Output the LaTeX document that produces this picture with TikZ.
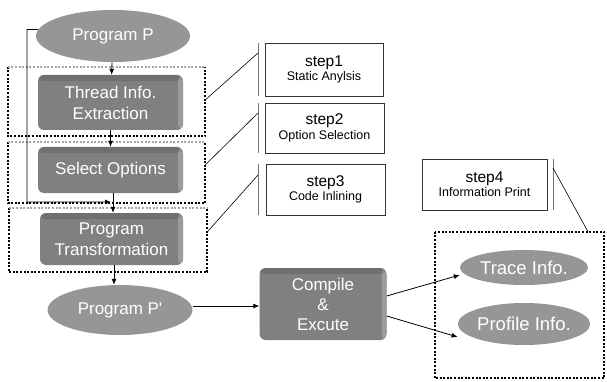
\documentclass[tikz,border=0pt]{standalone}
\usepackage{fontspec}
\setmainfont{Liberation Sans}
\usetikzlibrary{shapes.geometric,arrows.meta}
\definecolor{boxgray}{RGB}{128,128,128}
\definecolor{ellgray}{RGB}{150,150,150}
\tikzset{
  lbl/.style={text=white,font=\fontsize{17}{21}\selectfont,align=center,inner sep=0pt},
  procbox/.style={lbl,rectangle,rounded corners=6pt,fill=boxgray,
    path picture={
      \fill[black,opacity=0.12] (path picture bounding box.north west) rectangle ([yshift=-6pt]path picture bounding box.north east);
      \fill[white,opacity=0.22] ([xshift=-5pt]path picture bounding box.north east) rectangle (path picture bounding box.south east);
    }},
  ellnode/.style={lbl,ellipse,fill=ellgray},
  stepbox/.style={draw=black!80,line width=0.5pt,fill=white,align=center,inner sep=0pt},
  framearea/.style={inner sep=0pt},
  dotline/.style={line width=2pt,dash pattern=on 2pt off 1.6pt},
  arr/.style={-{Latex[length=6pt,width=5pt]},line width=0.8pt},
  thin/.style={line width=0.6pt},
}
\begin{document}
\begin{tikzpicture}[x=1pt,y=-1pt]
\useasboundingbox (0,0) rectangle (607,382);
% dotted frames
\node[framearea,minimum width=197pt,minimum height=69pt] (f1) at (106.5,101.5) {};
\node[framearea,minimum width=197pt,minimum height=61pt] (f2) at (106.5,172.5) {};
\node[framearea,minimum width=198pt,minimum height=64pt] (f3) at (108,240) {};
\node[framearea,minimum width=169pt,minimum height=146pt] (f4) at (519.5,305) {};
\foreach \f in {f1,f2,f3}{
  \draw[dotline] (\f.north west) -- (\f.south west) -- (\f.south east) -- (\f.north east);
  \draw[dotline,black!35,line width=1.6pt] (\f.north west) -- (\f.north east);
}
\draw[dotline] (f4.north west) rectangle (f4.south east);
% process nodes
\node[ellnode,minimum width=154pt,minimum height=52pt] (pp) at (113,36) {Program P};
\node[procbox,minimum width=145pt,minimum height=55pt] (te) at (110.5,102.5) {Thread Info.\\Extraction};
\node[procbox,minimum width=145pt,minimum height=46pt] (so) at (110.5,170) {Select Options};
\node[procbox,minimum width=143pt,minimum height=52pt] (pt) at (111.5,239) {Program\\Transformation};
\node[ellnode,minimum width=145pt,minimum height=50pt] (pq) at (120,310) {Program P\textquotesingle};
\node[procbox,minimum width=127pt,minimum height=72pt,font=\fontsize{17}{20}\selectfont] (ce) at (323,304) {Compile\\\&\\Excute};
\node[ellnode,minimum width=128pt,minimum height=35pt,font=\fontsize{18.5}{20}\selectfont] (tr) at (524,267.5) {Trace Info.};
\node[ellnode,minimum width=128pt,minimum height=42pt,font=\fontsize{18.5}{20}\selectfont] (pr) at (524,324) {Profile Info.};
% step boxes
\node[stepbox,minimum width=118pt,minimum height=53pt] (s1) at (324,69.5) {{\fontsize{15.5}{17}\selectfont step1}\\[1pt]{\fontsize{12.5}{14}\selectfont Static Anylsis}};
\node[stepbox,minimum width=119pt,minimum height=50pt] (s2) at (324.5,128) {{\fontsize{15.5}{17}\selectfont step2}\\[1pt]{\fontsize{12.5}{14}\selectfont Option Selection}};
\node[stepbox,minimum width=119pt,minimum height=51pt] (s3) at (325.5,189.5) {{\fontsize{15.5}{17}\selectfont step3}\\[1pt]{\fontsize{12.5}{14}\selectfont Code Inlining}};
\node[stepbox,minimum width=125pt,minimum height=51pt] (s4) at (484.5,184.5) {{\fontsize{15.5}{17}\selectfont step4}\\[1pt]{\fontsize{12.5}{14}\selectfont Information Print}};
% bracket lines beside step boxes
\coordinate (b1t) at (258,43); \coordinate (b1b) at (258,96);
\coordinate (b2t) at (258,103); \coordinate (b2b) at (258,153);
\coordinate (b3t) at (258,164); \coordinate (b3b) at (258,215);
\coordinate (b4t) at (553,159); \coordinate (b4b) at (553,210);
\draw[black!55,thin] (b1t) -- (b1b) (b2t) -- (b2b) (b3t) -- (b3b) (b4t) -- (b4b);
\draw[thin] (f1.east |- 0,100) -- (258,53);
\draw[thin] (f2.east |- 0,165) -- (258,113);
\draw[thin] (f3.east |- 0,232) -- (258,175);
\draw[thin] (553,168) -- (f4.north -| 588,0);
% connectors
\draw[arr] (pp) -- (te);
\draw[arr] (te) -- (so);
\draw[arr] (so.south -| 113,0) -- (pt.north -| 113,0);
\coordinate (fb) at (111,202);
\draw[arr] (pp.175) -- (27,29.5) -- (27,202) -- (fb);
\draw[arr] (pt.south -| 114,0) -- (pq.north -| 114,0);
\draw[arr] (pq.east |- 0,306) -- (ce.west |- 0,306);
\draw[arr] (ce.east |- 0,296) -- (tr.west |- 0,275);
\draw[arr] (ce.east |- 0,316) -- (pr.west |- 0,337);
\end{tikzpicture}
\end{document}
